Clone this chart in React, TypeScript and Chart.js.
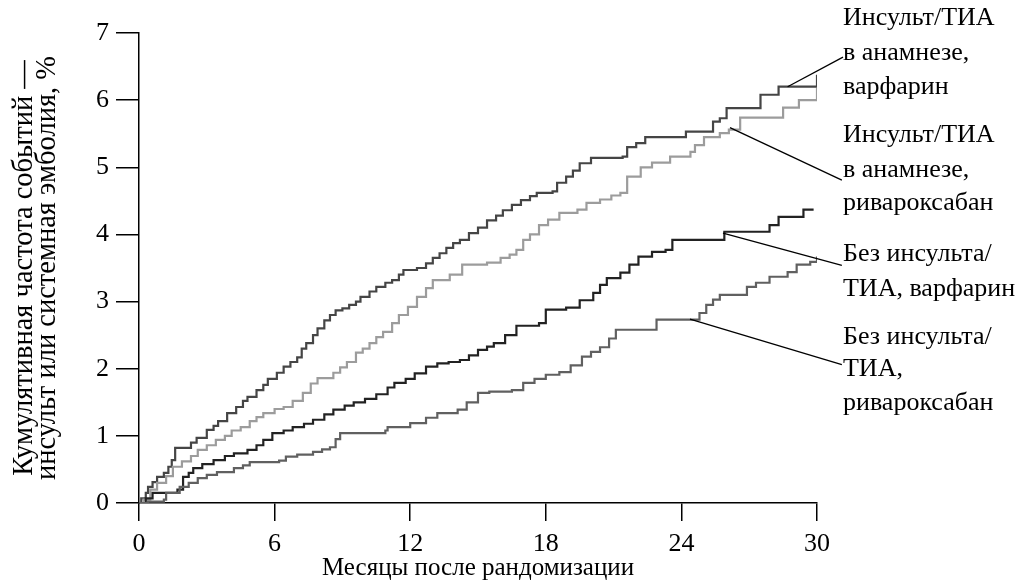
import React, { useEffect, useRef } from "react";
import { Chart, registerables } from "chart.js";

Chart.register(...registerables);

// ---- Axis ticks ----
const xTickValues = [0, 6, 12, 18, 24, 30];
const yTickValues = [0, 1, 2, 3, 4, 5, 6, 7];

// ---- Series: stroke/TIA history, warfarin ----
const strokeWarfMonths = [0, 0.1, 0.3, 0.4, 0.6, 0.8, 1.1, 1.3, 1.45, 1.6, 2.3, 2.55, 3.0, 3.3, 3.5, 3.9, 4.3, 4.6, 4.8, 5.2, 5.5, 5.7, 6.1, 6.4, 6.7, 7.0, 7.2, 7.4, 7.7, 7.9, 8.2, 8.45, 8.7, 9.0, 9.3, 9.6, 9.8, 10.2, 10.5, 10.9, 11.2, 11.5, 11.7, 12.3, 12.7, 13.0, 13.3, 13.6, 13.9, 14.2, 14.6, 15.0, 15.4, 15.8, 16.1, 16.5, 16.9, 17.3, 17.6, 18.3, 18.5, 18.9, 19.2, 19.5, 20.0, 21.4, 21.6, 22.0, 22.4, 24.2, 25.4, 25.7, 26.0, 27.5, 28.3, 30.0];
const strokeWarfValues = [0, 0.07, 0.15, 0.24, 0.31, 0.39, 0.45, 0.54, 0.64, 0.82, 0.9, 0.97, 1.09, 1.15, 1.22, 1.34, 1.43, 1.52, 1.58, 1.68, 1.76, 1.85, 1.94, 2.03, 2.1, 2.17, 2.3, 2.38, 2.5, 2.6, 2.72, 2.8, 2.87, 2.9, 2.95, 3.0, 3.07, 3.15, 3.22, 3.28, 3.32, 3.4, 3.47, 3.5, 3.57, 3.65, 3.72, 3.8, 3.87, 3.92, 4.02, 4.1, 4.21, 4.28, 4.36, 4.44, 4.51, 4.57, 4.62, 4.64, 4.77, 4.86, 4.95, 5.06, 5.14, 5.16, 5.3, 5.36, 5.45, 5.53, 5.68, 5.73, 5.88, 6.08, 6.2, 6.38];

// ---- Series: stroke/TIA history, rivaroxaban ----
const strokeRivaMonths = [0, 0.2, 0.5, 0.8, 1.2, 1.5, 1.9, 2.3, 2.6, 3.0, 3.4, 3.8, 4.1, 4.5, 4.9, 5.2, 5.5, 6.0, 6.4, 6.8, 7.25, 7.6, 7.9, 8.6, 8.9, 9.2, 9.6, 9.9, 10.2, 10.5, 10.8, 11.2, 11.5, 11.9, 12.3, 12.7, 13.0, 13.75, 14.3, 15.4, 16.0, 16.4, 16.7, 17.0, 17.3, 17.7, 18.1, 18.6, 19.4, 19.8, 20.4, 20.9, 21.3, 21.6, 22.2, 22.7, 23.5, 24.4, 24.6, 25.0, 25.7, 26.1, 26.6, 28.5, 29.2, 30.0];
const strokeRivaValues = [0, 0.05, 0.2, 0.3, 0.4, 0.54, 0.62, 0.7, 0.79, 0.86, 0.94, 1.0, 1.08, 1.13, 1.22, 1.28, 1.34, 1.4, 1.43, 1.52, 1.64, 1.78, 1.86, 1.94, 2.02, 2.1, 2.24, 2.3, 2.38, 2.47, 2.55, 2.68, 2.8, 2.92, 3.07, 3.2, 3.32, 3.4, 3.55, 3.58, 3.65, 3.7, 3.77, 3.92, 4.0, 4.14, 4.22, 4.32, 4.37, 4.47, 4.52, 4.58, 4.62, 4.86, 5.0, 5.07, 5.16, 5.23, 5.33, 5.45, 5.51, 5.56, 5.74, 5.89, 6.0, 6.18];

// ---- Series: no stroke/TIA, warfarin ----
const noStrokeWarfMonths = [0, 0.3, 0.6, 1.7, 1.95, 2.2, 2.4, 2.8, 3.3, 3.8, 4.2, 4.8, 5.2, 5.5, 5.9, 6.4, 6.8, 7.3, 7.7, 8.2, 8.6, 9.1, 9.5, 10.0, 10.5, 11.0, 11.3, 11.8, 12.2, 12.7, 13.2, 13.7, 14.2, 14.6, 15.0, 15.4, 15.7, 16.2, 16.7, 17.7, 18.0, 18.9, 19.5, 20.1, 20.4, 20.7, 21.3, 21.7, 22.1, 22.7, 23.3, 23.6, 25.9, 27.9, 28.3, 29.4, 29.85];
const noStrokeWarfValues = [0, 0.07, 0.15, 0.2, 0.39, 0.45, 0.52, 0.58, 0.64, 0.7, 0.74, 0.79, 0.86, 0.94, 1.04, 1.08, 1.13, 1.18, 1.24, 1.32, 1.39, 1.45, 1.5, 1.55, 1.62, 1.72, 1.79, 1.85, 1.93, 2.03, 2.08, 2.1, 2.13, 2.2, 2.28, 2.33, 2.38, 2.5, 2.64, 2.68, 2.88, 2.91, 3.02, 3.13, 3.25, 3.35, 3.43, 3.55, 3.67, 3.74, 3.77, 3.92, 4.04, 4.14, 4.26, 4.37, 4.37];

// ---- Series: no stroke/TIA, rivaroxaban ----
const noStrokeRivaMonths = [0, 0.4, 1.1, 1.2, 1.8, 2.2, 2.6, 3.0, 3.45, 4.2, 4.6, 4.9, 6.2, 6.5, 7.0, 7.7, 8.1, 8.45, 8.7, 8.9, 10.9, 11.0, 12.0, 12.7, 13.2, 14.1, 14.5, 15.0, 15.5, 16.5, 17.0, 17.5, 18.0, 18.6, 19.1, 19.6, 20.0, 20.4, 20.8, 21.1, 22.9, 24.8, 25.1, 25.4, 25.7, 26.9, 27.3, 27.9, 28.7, 29.1, 29.7, 30.0];
const noStrokeRivaValues = [0, 0.02, 0.05, 0.15, 0.24, 0.3, 0.37, 0.42, 0.46, 0.52, 0.56, 0.61, 0.63, 0.69, 0.72, 0.76, 0.8, 0.83, 0.95, 1.04, 1.08, 1.13, 1.19, 1.27, 1.34, 1.39, 1.5, 1.64, 1.66, 1.68, 1.79, 1.85, 1.91, 1.95, 2.05, 2.18, 2.25, 2.32, 2.45, 2.58, 2.73, 2.83, 2.95, 3.03, 3.1, 3.22, 3.28, 3.37, 3.44, 3.55, 3.59, 3.67];

// ---- Right-hand labels (text lines, in data units: month for left edge, value for line centre) ----
const labelTexts = [
  ["Инсульт/ТИА", "в анамнезе,", "варфарин"],
  ["Инсульт/ТИА", "в анамнезе,", "ривароксабан"],
  ["Без инсульта/", "ТИА, варфарин"],
  ["Без инсульта/", "ТИА,", "ривароксабан"],
];
const labelLineValues = [
  [7.22, 6.7, 6.19],
  [5.48, 4.95, 4.47],
  [3.71, 3.19],
  [2.47, 1.99, 1.49],
];
const labelMonth = 31.15;
// leader lines: from a point on a curve to the label
const leaderFromMonths = [28.7, 26.15, 25.84, 24.38];
const leaderFromValues = [6.2, 5.59, 4.02, 2.74];
const leaderToMonths = [31.15, 31.1, 31.1, 31.1];
const leaderToValues = [6.64, 4.81, 3.54, 2.06];

const FONT_FAMILY = '"Liberation Serif", "Times New Roman", serif';
const FONT_SIZE = 26;

const toXY = (xs: number[], ys: number[]) => xs.map((x, i) => ({ x, y: ys[i] }));

const labelsPlugin = {
  id: "rightLabels",
  afterDraw(chart: any) {
    const { ctx, scales } = chart;
    const xs = scales.x;
    const ys = scales.y;
    ctx.save();
    ctx.strokeStyle = "#000";
    ctx.lineWidth = 1.3;
    for (let i = 0; i < leaderFromMonths.length; i++) {
      ctx.beginPath();
      ctx.moveTo(xs.getPixelForValue(leaderFromMonths[i]), ys.getPixelForValue(leaderFromValues[i]));
      ctx.lineTo(xs.getPixelForValue(leaderToMonths[i]), ys.getPixelForValue(leaderToValues[i]));
      ctx.stroke();
    }
    ctx.fillStyle = "#000";
    ctx.font = `${FONT_SIZE}px ${FONT_FAMILY}`;
    ctx.textAlign = "left";
    ctx.textBaseline = "middle";
    const lx = xs.getPixelForValue(labelMonth);
    labelTexts.forEach((lines, i) => {
      lines.forEach((t, j) => {
        ctx.fillText(t, lx, ys.getPixelForValue(labelLineValues[i][j]));
      });
    });
    ctx.restore();
  },
};

export default function App() {
  const canvasRef = useRef<HTMLCanvasElement | null>(null);

  useEffect(() => {
    if (!canvasRef.current) return;
    const common = { pointRadius: 0, borderWidth: 2.2, stepped: "before" as const, fill: false, tension: 0 };
    const chart = new Chart(canvasRef.current, {
      type: "line",
      data: {
        datasets: [
          { label: "Без инсульта/ТИА, ривароксабан", data: toXY(noStrokeRivaMonths, noStrokeRivaValues), borderColor: "#606060", ...common },
          { label: "Без инсульта/ТИА, варфарин", data: toXY(noStrokeWarfMonths, noStrokeWarfValues), borderColor: "#222222", ...common },
          { label: "Инсульт/ТИА в анамнезе, ривароксабан", data: toXY(strokeRivaMonths, strokeRivaValues), borderColor: "#9c9c9c", ...common },
          { label: "Инсульт/ТИА в анамнезе, варфарин", data: toXY(strokeWarfMonths, strokeWarfValues), borderColor: "#454545", ...common },
        ],
      },
      options: {
        responsive: false,
        maintainAspectRatio: false,
        animation: false,
        layout: { padding: { left: 0, right: 210, top: 33, bottom: 0 } },
        plugins: { legend: { display: false }, tooltip: { enabled: false } },
        scales: {
          x: {
            type: "linear",
            min: 0,
            max: 30,
            afterBuildTicks: (scale: any) => {
              scale.ticks = xTickValues.map((v) => ({ value: v }));
            },
            afterFit: (scale: any) => {
              scale.height = 80;
            },
            ticks: {
              autoSkip: false,
              maxRotation: 0,
              color: "#000",
              padding: 8,
              font: { family: FONT_FAMILY, size: FONT_SIZE },
            },
            grid: { drawOnChartArea: false, drawTicks: true, tickLength: 18, color: "#000", lineWidth: 1.5 },
            border: { display: true, color: "#000", width: 1.5 },
            title: {
              display: true,
              text: "Месяцы после рандомизации",
              color: "#000",
              font: { family: FONT_FAMILY, size: 25 },
              padding: { top: 0, bottom: 0 },
            },
          },
          y: {
            type: "linear",
            min: 0,
            max: 7,
            afterBuildTicks: (scale: any) => {
              scale.ticks = yTickValues.map((v) => ({ value: v }));
            },
            afterFit: (scale: any) => {
              scale.width = 139;
            },
            ticks: {
              autoSkip: false,
              color: "#000",
              padding: 7,
              font: { family: FONT_FAMILY, size: FONT_SIZE },
            },
            grid: { drawOnChartArea: false, drawTicks: true, tickLength: 23, color: "#000", lineWidth: 1.5 },
            border: { display: true, color: "#000", width: 1.5 },
            title: {
              display: true,
              text: ["Кумулятивная частота событий —", "инсульт или системная эмболия, %"],
              color: "#000",
              font: { family: FONT_FAMILY, size: 28.5, lineHeight: 0.81 },
              padding: { top: 13, bottom: 0 },
            },
          },
        },
      },
      plugins: [labelsPlugin],
    });
    return () => chart.destroy();
  }, []);

  return (
    <div style={{ position: "fixed", left: 0, top: 0, width: 1027, height: 583, background: "#fff" }}>
      <canvas ref={canvasRef} width={1027} height={583} style={{ width: 1027, height: 583, display: "block" }} />
    </div>
  );
}
